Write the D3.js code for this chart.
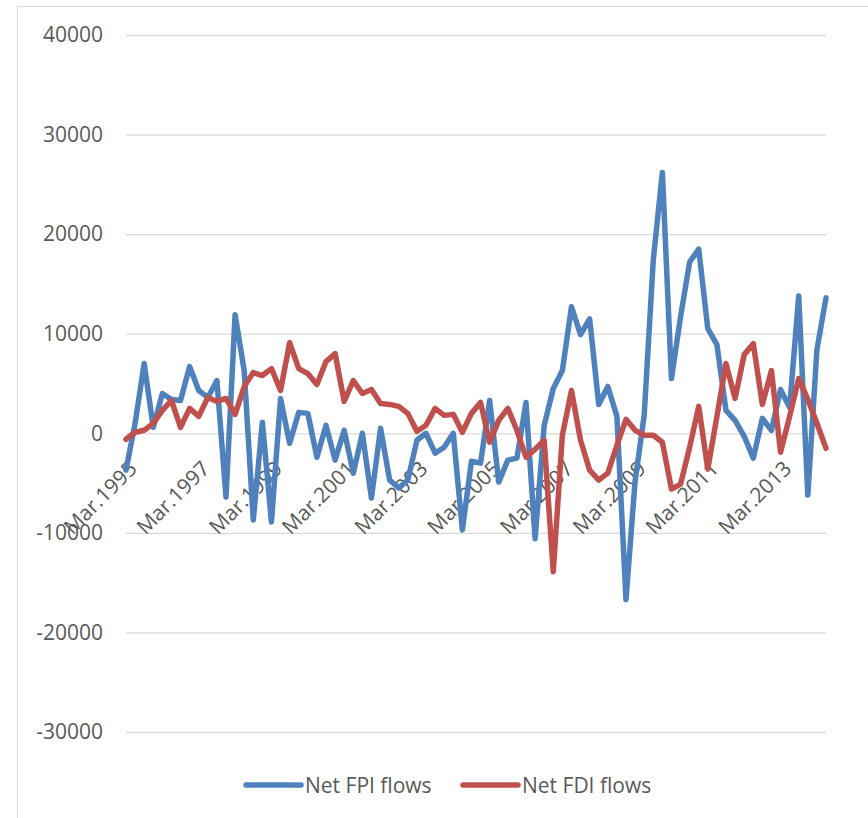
<!DOCTYPE html>
<html>
<head>
<meta charset="utf-8">
<script src="https://cdn.jsdelivr.net/npm/d3@7"></script>
<style>
  html, body { margin: 0; padding: 0; background: #ffffff; }
  svg { display: block; }
  text { font-family: "Open Sans", "Noto Sans", sans-serif; fill: #595959; }
</style>
</head>
<body>
<svg id="chart" width="868" height="818"></svg>
<script>
// Quarterly periods, March 1995 to June 2014
const categories = [
  "Mar.1995","Jun.1995","Sep.1995","Dec.1995",
  "Mar.1996","Jun.1996","Sep.1996","Dec.1996",
  "Mar.1997","Jun.1997","Sep.1997","Dec.1997",
  "Mar.1998","Jun.1998","Sep.1998","Dec.1998",
  "Mar.1999","Jun.1999","Sep.1999","Dec.1999",
  "Mar.2000","Jun.2000","Sep.2000","Dec.2000",
  "Mar.2001","Jun.2001","Sep.2001","Dec.2001",
  "Mar.2002","Jun.2002","Sep.2002","Dec.2002",
  "Mar.2003","Jun.2003","Sep.2003","Dec.2003",
  "Mar.2004","Jun.2004","Sep.2004","Dec.2004",
  "Mar 2005","Jun 2005","Sep 2005","Dec 2005",
  "Mar 2006","Jun 2006","Sep 2006","Dec 2006",
  "Mar 2007","Jun 2007","Sep 2007","Dec 2007",
  "Mar.2008","Jun.2008","Sep.2008","Dec.2008",
  "Mar.2009","Jun.2009","Sep.2009","Dec.2009",
  "Mar.2010","Jun.2010","Sep.2010","Dec.2010",
  "Mar.2011","Jun.2011","Sep.2011","Dec.2011",
  "Mar.2012","Jun.2012","Sep.2012","Dec.2012",
  "Mar.2013","Jun.2013","Sep.2013","Dec.2013",
  "Mar.2014","Jun.2014"
];

// Net foreign portfolio investment flows
const fpiFlows = [
  -3700, 1000, 7000, 600, 4000, 3400, 3300, 6700, 4300, 3600,
  5300, -6400, 11900, 6300, -8700, 1100, -8900, 3500, -1000, 2100,
  2000, -2400, 800, -2700, 300, -4000, 0, -6500, 500, -4700,
  -5500, -4700, -700, 0, -2000, -1400, 0, -9700, -2800, -3000,
  3300, -4900, -2700, -2500, 3100, -10600, 800, 4500, 6300, 12700,
  9900, 11500, 2900, 4700, 1700, -16700, -4800, 1800, 17400, 26200,
  5500, 11700, 17200, 18500, 10500, 8900, 2300, 1300, -300, -2500,
  1500, 300, 4400, 2600, 13800, -6200, 8400, 13600
];

// Net foreign direct investment flows
const fdiFlows = [
  -600, 100, 300, 1000, 2300, 3300, 600, 2500, 1700, 3600,
  3200, 3500, 1900, 4700, 6100, 5800, 6500, 4300, 9100, 6500,
  6000, 4900, 7200, 8000, 3200, 5300, 4000, 4400, 3000, 2900,
  2700, 2000, 200, 800, 2500, 1800, 1900, 100, 2000, 3100,
  -900, 1300, 2500, 300, -2400, -1600, -700, -13900, -200, 4300,
  -700, -3700, -4700, -4000, -1200, 1400, 300, -200, -200, -900,
  -5600, -5100, -1400, 2700, -3600, 1700, 7000, 3500, 7900, 9000,
  2900, 6300, -1900, 1700, 5500, 3400, 1000, -1500
];

const yTicks = [-30000, -20000, -10000, 0, 10000, 20000, 30000, 40000];
const xTickLabels = ["Mar.1995","Mar.1997","Mar.1999","Mar.2001","Mar.2003",
                     "Mar 2005","Mar 2007","Mar.2009","Mar.2011","Mar.2013"];

const seriesList = [
  { name: "Net FPI flows", values: fpiFlows, color: "#4F81BD" },
  { name: "Net FDI flows", values: fdiFlows, color: "#C0504D" }
];

const svg = d3.select("#chart");

// Outer chart frame
svg.append("rect")
  .attr("x", 17.5).attr("y", 6.5)
  .attr("width", 900).attr("height", 900)
  .attr("fill", "none").attr("stroke", "#D9D9D9").attr("stroke-width", 1);

const plotLeft = 126, plotRight = 826, plotTop = 35, plotBottom = 732;

const x = d3.scalePoint().domain(categories).range([plotLeft, plotRight]);
const y = d3.scaleLinear().domain([-30000, 40000]).range([plotBottom, plotTop]);

// Horizontal gridlines with value labels (plain hyphen for negatives)
const yAxis = d3.axisLeft(y)
  .tickValues(yTicks)
  .tickSize(-(plotRight - plotLeft))
  .tickPadding(23)
  .tickFormat(d => String(d));
const gy = svg.append("g").attr("transform", `translate(${plotLeft},0)`).call(yAxis);
gy.select(".domain").remove();
gy.selectAll(".tick line").attr("stroke", "#D9D9D9").attr("stroke-width", 1.3);
gy.selectAll(".tick text")
  .attr("font-size", 21)
  .attr("fill", "#595959")
  .style("font-family", "'Open Sans', sans-serif");

// Category labels hanging below the zero line, rotated
const xAxis = d3.axisBottom(x).tickValues(xTickLabels).tickSize(0).tickPadding(0);
const gx = svg.append("g").attr("transform", `translate(0,${y(0)})`).call(xAxis);
gx.select(".domain").remove();
gx.selectAll(".tick text")
  .attr("font-size", 21)
  .attr("fill", "#595959")
  .style("font-family", "'Open Sans', sans-serif")
  .attr("text-anchor", "end")
  .attr("x", 0).attr("y", 0).attr("dy", "0.72em")
  .attr("transform", "translate(1,26) rotate(-45)");

// Series lines
const line = d3.line()
  .x((d, i) => x(categories[i]))
  .y(d => y(d));

seriesList.forEach(s => {
  svg.append("path")
    .datum(s.values)
    .attr("d", line)
    .attr("fill", "none")
    .attr("stroke", s.color)
    .attr("stroke-width", 5.5)
    .attr("stroke-linejoin", "round")
    .attr("stroke-linecap", "round");
});

// Legend
const legendItems = [
  { x: 246, series: seriesList[0] },
  { x: 463, series: seriesList[1] }
];
const legendY = 785;
legendItems.forEach(item => {
  const g = svg.append("g").attr("transform", `translate(${item.x},${legendY})`);
  g.append("line")
    .attr("x1", 0).attr("x2", 55).attr("y1", 0).attr("y2", 0)
    .attr("stroke", item.series.color).attr("stroke-width", 5.5)
    .attr("stroke-linecap", "round");
  g.append("text")
    .attr("x", 59).attr("y", 0).attr("dy", "0.36em")
    .attr("font-size", 21)
    .text(item.series.name);
});
</script>
</body>
</html>
